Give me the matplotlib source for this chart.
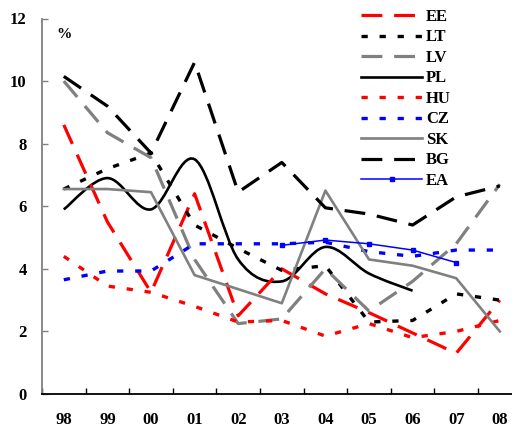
import numpy as np
import matplotlib
matplotlib.use('Agg')
import matplotlib.pyplot as plt
from matplotlib.path import Path
from matplotlib.patches import PathPatch
from matplotlib.lines import Line2D

nan = np.nan
years = ['98', '99', '00', '01', '02', '03', '04', '05', '06', '07', '08']
ee = [8.6, 5.5, 3.25, 6.4, 2.5, 4.0, 3.2, 2.6, 1.95, 1.3, 3.0]
lt = [6.55, 7.2, 7.7, 5.4, 4.65, 3.95, 4.1, 2.3, 2.35, 3.2, 3.0]
lv = [10.0, 8.35, 7.55, 4.3, 2.25, 2.4, 4.0, 2.65, 3.6, 4.8, 6.7]
pl = [5.9, 6.9, 5.9, 7.5, 4.3, 3.6, 4.7, 3.85, 3.3]
hu = [4.4, 3.45, 3.25, 2.8, 2.3, 2.35, 1.85, 2.25, 1.8, 2.0, 2.35]
cz = [3.65, 3.93, 3.93, 4.8, 4.8, 4.8, 4.85, 4.55, 4.4, 4.6, 4.6]
sk = [6.55, 6.55, 6.45, 3.8, 3.35, 2.9, 6.5, 4.3, 4.1, 3.7, 2.0]
bg = [10.15, 9.2, 7.7, 10.6, 6.45, 7.4, 5.95, 5.75, 5.4, 6.3, 6.65]
ea = [nan, nan, nan, nan, nan, 4.75, 4.92, 4.8, 4.6, 4.2, nan]

plt.rcParams['font.family'] = ['Liberation Serif', 'DejaVu Serif']
plt.rcParams['font.weight'] = 'bold'
plt.rcParams['lines.scale_dashes'] = False

RED, GRAY, BLUE = '#ff0000', '#808080', '#0000ff'
long_dash = (0, (15, 8.5))
dot_dash = (0, (4.5, 8.5))

fig = plt.figure(figsize=(5.12, 4.28), dpi=100)
ax = fig.add_axes([42 / 512, 34 / 428, 479.6 / 512, 375.5 / 428])
x = np.arange(len(years))


def smooth_path(xs, ys):
    # excel-style smoothed line as cubic bezier segments
    pts = np.column_stack([xs, ys])
    n = len(pts)
    verts = [pts[0]]
    codes = [Path.MOVETO]
    for i in range(n - 1):
        p0 = pts[max(i - 1, 0)]
        p1 = pts[i]
        p2 = pts[i + 1]
        p3 = pts[min(i + 2, n - 1)]
        verts += [p1 + (p2 - p0) / 6, p2 - (p3 - p1) / 6, p2]
        codes += [Path.CURVE4] * 3
    return Path(verts, codes)


ax.plot(x, ee, color=RED, lw=2.3, linestyle=long_dash, label='EE')
ax.plot(x, lt, color='black', lw=2.4, linestyle=dot_dash, label='LT')
ax.plot(x, lv, color=GRAY, lw=2.3, linestyle=long_dash, label='LV')
ax.add_patch(PathPatch(smooth_path(x[:len(pl)], pl), fill=False,
                       edgecolor='black', lw=1.9))
ax.plot(x, hu, color=RED, lw=2.4, linestyle=dot_dash, label='HU')
ax.plot(x, cz, color=BLUE, lw=2.4, linestyle=dot_dash, label='CZ')
ax.plot(x, sk, color=GRAY, lw=1.9, label='SK')
ax.plot(x, bg, color='black', lw=2.3, linestyle=long_dash, label='BG')
ax.plot(x, ea, color=BLUE, lw=1.1, marker='s', ms=3, label='EA')

# legend in original order, PL handle built by hand
h, l = ax.get_legend_handles_labels()
h.insert(3, Line2D([], [], color='black', lw=1.9))
l.insert(3, 'PL')
ax.legend(h, l, loc='upper left', bbox_to_anchor=(361 / 512, 0.979),
          bbox_transform=fig.transFigure, frameon=False, fontsize=12,
          handlelength=3.66, handletextpad=0.25, labelspacing=0.27,
          borderpad=0, borderaxespad=0, numpoints=1)

ax.set_xlim(-0.5, len(years) - 0.5)
ax.set_ylim(0, 12)
ax.set_yticks(range(0, 13, 2))
ax.set_xticks(np.arange(len(years) + 1) - 0.5, minor=False)
ax.set_xticklabels([])
ax.set_xticks(x, minor=True)
ax.set_xticklabels(years, minor=True, fontsize=12)
ax.tick_params(axis='x', which='major', direction='in', length=4, width=1)
ax.tick_params(axis='x', which='minor', length=0, pad=13)
ax.tick_params(axis='y', direction='in', length=4, width=1, color=GRAY,
               labelsize=12, pad=11)
for s in ['top', 'right']:
    ax.spines[s].set_visible(False)
ax.spines['left'].set_color(GRAY)
ax.spines['left'].set_linewidth(1.3)
ax.spines['bottom'].set_linewidth(1.3)

ax.text(0, 11.5, '%', ha='center', va='center', fontsize=11)

fig.savefig('out.png', dpi=100)
